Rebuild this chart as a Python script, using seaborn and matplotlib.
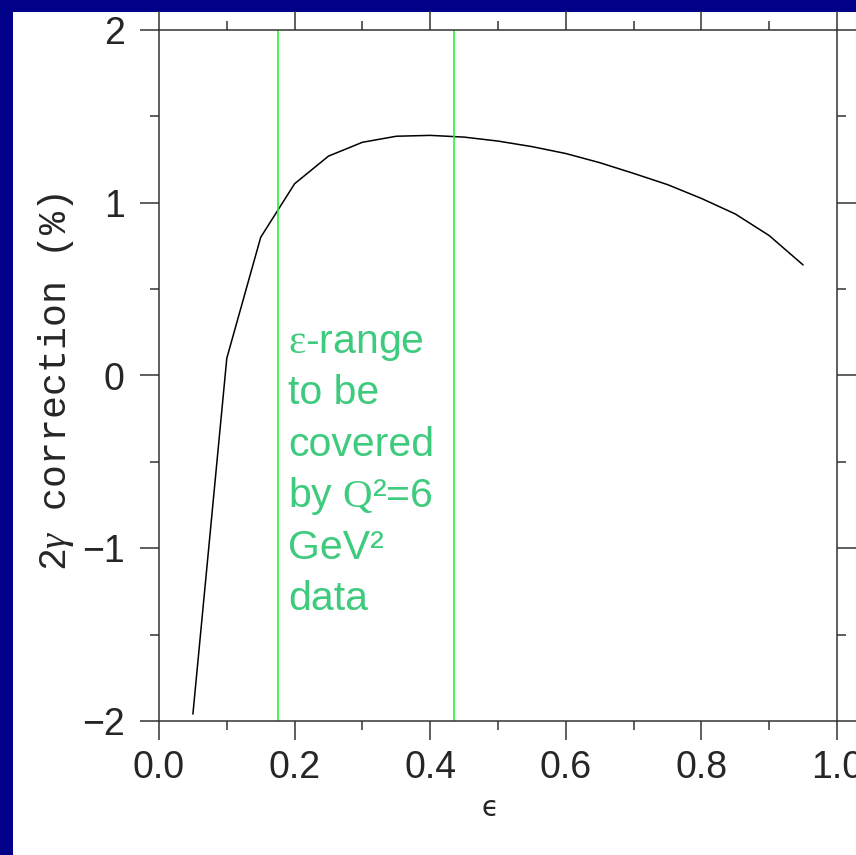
import numpy as np
import matplotlib
matplotlib.use("Agg")
import matplotlib.pyplot as plt
from matplotlib.patches import Rectangle
from matplotlib.ticker import MultipleLocator
import seaborn as sns

# Data
epsilon = [0.05, 0.10, 0.15, 0.20, 0.25, 0.30, 0.35, 0.40, 0.45, 0.50,
           0.55, 0.60, 0.65, 0.70, 0.75, 0.80, 0.85, 0.90, 0.95]
correction = [-1.96, 0.10, 0.80, 1.11, 1.27, 1.35, 1.385, 1.39, 1.38, 1.357,
              1.325, 1.285, 1.232, 1.17, 1.105, 1.025, 0.935, 0.81, 0.64]
eps_range = [0.1755, 0.435]
x_ticks = [0.0, 0.2, 0.4, 0.6, 0.8, 1.0]
y_ticks = [-2, -1, 0, 1, 2]
note_lines = [r"$\mathrm{ε}$-range", "to be", "covered",
              r"by $\mathrm{Q}$²=6", "GeV²", "data"]

sns.set_style("ticks")
plt.rcParams["font.family"] = ["Liberation Sans", "DejaVu Sans"]
plt.rcParams["mathtext.fontset"] = "custom"
plt.rcParams["mathtext.rm"] = "Liberation Serif"
plt.rcParams["mathtext.it"] = "Liberation Serif:italic"

fig = plt.figure(figsize=(8.56, 8.55), dpi=100, facecolor="#000088")
# white slide area
fig.add_artist(Rectangle((13 / 856, 0), 1, 1 - 12 / 855, transform=fig.transFigure,
                         facecolor="white", edgecolor="none", zorder=0))

ax = fig.add_axes([159 / 856, 134 / 855, 678 / 856, 691 / 855])
ax.set_facecolor("white")

sns.lineplot(x=epsilon, y=correction, color="black", linewidth=1.1, ax=ax)
for xv in eps_range:
    ax.axvline(xv, color="#2EF02E", linewidth=1.2)

# annotation text, one line at a time
for i, line in enumerate(note_lines):
    ax.text(0.190, 0.130 - i * 0.2975, line, color="#3FCB7E", fontsize=29.5,
            ha="left", va="baseline", family="Liberation Sans")

ax.set_xlim(0, 1)
ax.set_ylim(-2, 2)
ax.set_xticks(x_ticks)
ax.set_yticks(y_ticks)
ax.xaxis.set_minor_locator(MultipleLocator(0.1))
ax.yaxis.set_minor_locator(MultipleLocator(0.5))

for s in ax.spines.values():
    s.set_visible(True)
    s.set_color("#333333")
    s.set_linewidth(1.1)

ax.tick_params(which="both", direction="out", top=True, right=True,
               color="#333333", width=1.1)
ax.tick_params(which="major", length=13.7)
ax.tick_params(which="minor", length=6.5)
ax.tick_params(axis="x", which="major", labelsize=27, pad=7)
ax.tick_params(axis="y", which="major", labelsize=27, pad=11)

ax.set_xlabel("ϵ", fontsize=20, family="DejaVu Sans")
ax.xaxis.set_label_coords(0.488, -0.105)
ax.set_ylabel(r"2$\gamma$ correction (%)", fontsize=27.5, family="Liberation Mono")
ax.yaxis.set_label_coords(-0.122, 0.49)

plt.savefig("out.png", dpi=100, facecolor=fig.get_facecolor())
